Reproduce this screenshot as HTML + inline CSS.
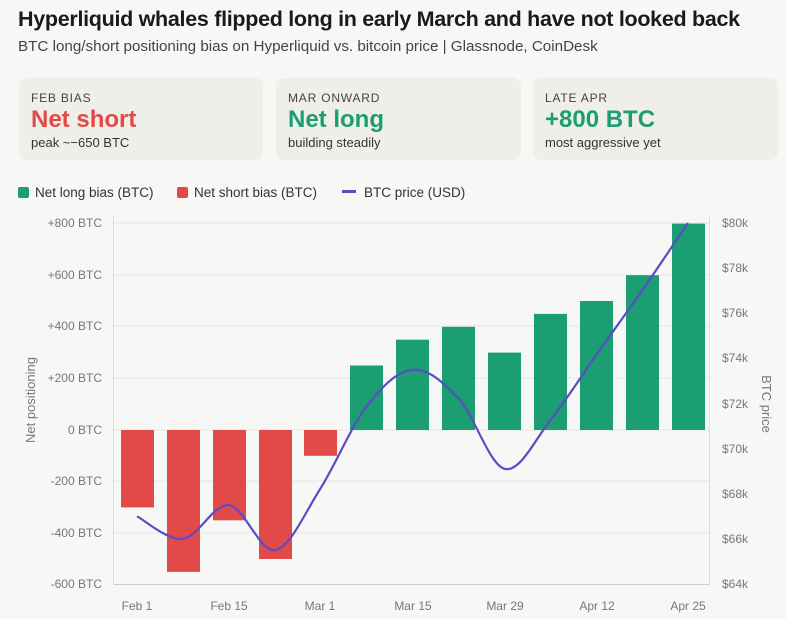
<!DOCTYPE html>
<html><head><meta charset="utf-8"><style>
body{margin:0;background:#f7f7f5;font-family:"Liberation Sans",sans-serif;width:786px;height:619px;overflow:hidden;position:relative}
.t{position:absolute;left:18px;top:7px;font-size:21.5px;font-weight:bold;color:#1a1a1a;letter-spacing:-0.3px}
.s{position:absolute;left:18px;top:38px;font-size:15.2px;color:#444}
.c{position:absolute;top:78px;height:82px;background:#efeee8;border-radius:8px}
.c .a{position:absolute;left:12px;top:13px;font-size:12px;letter-spacing:0.8px;color:#444}
.c .b{position:absolute;left:12px;top:28px;font-size:24px;font-weight:bold}
.c .d{position:absolute;left:12px;top:57px;font-size:13px;color:#333}
.lg{position:absolute;top:185px;font-size:13.5px;color:#333}
</style></head><body>
<div class="t">Hyperliquid whales flipped long in early March and have not looked back</div>
<div class="s">BTC long/short positioning bias on Hyperliquid vs. bitcoin price | Glassnode, CoinDesk</div>
<div class="c" style="left:19px;width:244px"><div class="a">FEB BIAS</div><div class="b" style="color:#e24a4a">Net short</div><div class="d">peak ~−650 BTC</div></div>
<div class="c" style="left:276px;width:245px"><div class="a">MAR ONWARD</div><div class="b" style="color:#1b9e72">Net long</div><div class="d">building steadily</div></div>
<div class="c" style="left:533px;width:245px"><div class="a">LATE APR</div><div class="b" style="color:#1b9e72">+800 BTC</div><div class="d">most aggressive yet</div></div>
<div class="lg" style="left:18px"><span style="display:inline-block;width:11px;height:11px;background:#1b9e72;border-radius:2px;vertical-align:-1px;margin-right:6px"></span>Net long bias (BTC)</div>
<div class="lg" style="left:177px"><span style="display:inline-block;width:11px;height:11px;background:#e24a4a;border-radius:2px;vertical-align:-1px;margin-right:6px"></span>Net short bias (BTC)</div>
<div class="lg" style="left:342px"><span style="display:inline-block;width:14px;height:3px;background:#5b4bc4;vertical-align:4px;margin-right:8px"></span>BTC price (USD)</div>
<svg width="786" height="619" style="position:absolute;left:0;top:0" font-family="Liberation Sans, sans-serif">
<g stroke="#e6e6e3" stroke-width="1">
<line x1="114" x2="709" y1="223" y2="223"/><line x1="114" x2="709" y1="275" y2="275"/><line x1="114" x2="709" y1="326" y2="326"/><line x1="114" x2="709" y1="378" y2="378"/><line x1="114" x2="709" y1="430" y2="430"/><line x1="114" x2="709" y1="481" y2="481"/><line x1="114" x2="709" y1="533" y2="533"/>
</g>
<line x1="114" x2="709" y1="584.5" y2="584.5" stroke="#ccc"/>
<line x1="113.5" x2="113.5" y1="215" y2="585" stroke="#ddd"/>
<line x1="709.5" x2="709.5" y1="215" y2="585" stroke="#ddd"/>
<g font-size="12" fill="#777" text-anchor="end">
<text x="102" y="227">+800 BTC</text><text x="102" y="279">+600 BTC</text><text x="102" y="330">+400 BTC</text><text x="102" y="382">+200 BTC</text><text x="102" y="434">0 BTC</text><text x="102" y="485">-200 BTC</text><text x="102" y="537">-400 BTC</text><text x="102" y="588">-600 BTC</text>
</g>
<g font-size="12" fill="#777">
<text x="722" y="227">$80k</text><text x="722" y="272">$78k</text><text x="722" y="317">$76k</text><text x="722" y="362">$74k</text><text x="722" y="408">$72k</text><text x="722" y="453">$70k</text><text x="722" y="498">$68k</text><text x="722" y="543">$66k</text><text x="722" y="588">$64k</text>
</g>
<g font-size="12" fill="#777" text-anchor="middle">
<text x="137" y="610">Feb 1</text><text x="229" y="610">Feb 15</text><text x="320" y="610">Mar 1</text><text x="413" y="610">Mar 15</text><text x="505" y="610">Mar 29</text><text x="597" y="610">Apr 12</text><text x="688" y="610">Apr 25</text>
</g>
<text transform="translate(35,400) rotate(-90)" font-size="13" fill="#777" text-anchor="middle">Net positioning</text>
<text transform="translate(762,404) rotate(90)" font-size="13" fill="#777" text-anchor="middle">BTC price</text>
<g fill="#e24a4a">
<rect x="121" y="430" width="33" height="77.4"/><rect x="167" y="430" width="33" height="141.9"/><rect x="213" y="430" width="33" height="90.3"/><rect x="259" y="430" width="33" height="129"/><rect x="304" y="430" width="33" height="25.8"/>
</g>
<g fill="#1b9e72">
<rect x="350" y="365.5" width="33" height="64.5"/><rect x="396" y="339.7" width="33" height="90.3"/><rect x="442" y="326.8" width="33" height="103.2"/><rect x="488" y="352.6" width="33" height="77.4"/><rect x="534" y="313.9" width="33" height="116.1"/><rect x="580" y="301" width="33" height="129"/><rect x="626" y="275.2" width="33" height="154.8"/><rect x="672" y="223.6" width="33" height="206.4"/>
</g>
<path id="p" fill="none" stroke="#5b4bc4" stroke-width="2.2" stroke-linejoin="round"/>
</svg>
<script>
var xs=[137,183,229,275,320,367,413,459,505,551,597,642,688];
var v=[67,66,67.5,65.5,68.2,71.9,73.5,72.2,69.1,71.3,74.2,77,80];
var p=xs.map(function(x,i){return [x,584-(v[i]-64)*22.56];});
var d="M"+p[0][0]+","+p[0][1];
for(var i=0;i<p.length-1;i++){var p0=p[i-1]||p[i],p1=p[i],p2=p[i+1],p3=p[i+2]||p2;
d+=" C"+(p1[0]+(p2[0]-p0[0])/6)+","+(p1[1]+(p2[1]-p0[1])/6)+" "+(p2[0]-(p3[0]-p1[0])/6)+","+(p2[1]-(p3[1]-p1[1])/6)+" "+p2[0]+","+p2[1];}
document.getElementById("p").setAttribute("d",d);
</script>
</body></html>
